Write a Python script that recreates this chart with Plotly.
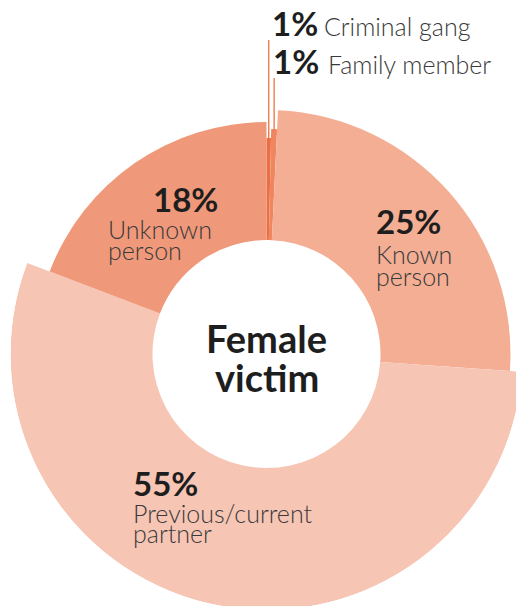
import math
import plotly.graph_objects as go

# ---------------- data ----------------
categories = ["Criminal gang", "Family member", "Known person",
              "Previous/current partner", "Unknown person"]
# angular share of each slice (percent of circle)
shares = [0.33, 0.42, 25.36, 54.67, 19.22]
# printed percentage labels
pct_labels = ["1%", "1%", "25%", "55%", "18%"]
label_lines = [["Criminal gang"], ["Family member"], ["Known", "person"],
               ["Previous/current", "partner"], ["Unknown", "person"]]

# ---------------- style ----------------
# the figure is a little larger than the 516x606 window; the window crops it
W, H = 530, 620
CX, CY = 266.5, 354.0          # centre of the donut (px from top-left)
R_AXIS = 256.0                 # radial axis length in px
HOLE = 114.0                   # inner radius (px units)
outer_radius = [216, 225, 244, 256, 232]
colors = ["#EC6E45", "#EF8660", "#F3AE94", "#F7C5B4", "#F0997A"]
leader_top = [40, 78]          # px from top where the leader lines end
leader_color = "#F0703F"
FONT = "Lato"
DARK = "#1e1e1e"
LIGHT = "#3a3a3a"

# angles (clockwise from 12 o'clock)
widths = [s * 3.6 for s in shares]
centers = []
acc = 0.0
for w in widths:
    centers.append(acc + w / 2)
    acc += w

fig = go.Figure()
fig.add_trace(go.Barpolar(
    r=[o - HOLE for o in outer_radius],
    base=[HOLE] * len(shares),
    theta=centers,
    width=widths,
    marker=dict(color=colors, line=dict(width=0)),
    hoverinfo="skip",
    showlegend=False,
))

# leader lines for the two thin slices
shapes = []
for i in range(2):
    a = math.radians(centers[i])
    x0 = CX + outer_radius[i] * math.sin(a)
    y0 = CY - outer_radius[i] * math.cos(a)
    shapes.append(dict(type="line", xref="paper", yref="paper",
                       x0=x0 / W, x1=x0 / W,
                       y0=1 - (y0 + 1) / H, y1=1 - leader_top[i] / H,
                       line=dict(color=leader_color, width=1.3)))

ann = []


def txt(text, x, y, size, weight, color, xanchor="left"):
    ann.append(dict(text=text, x=x / W, y=1 - y / H, xref="paper", yref="paper",
                    xanchor=xanchor, yanchor="middle", showarrow=False,
                    font=dict(family=FONT, size=size, weight=weight, color=color)))


PCT = 33
LAB = 25
# top thin slices
txt(pct_labels[0], 270, 23.5, PCT, 700, DARK)
txt(label_lines[0][0], 322, 26.5, LAB, 300, LIGHT)
txt(pct_labels[1], 271, 61, PCT, 700, DARK)
txt(label_lines[1][0], 325.5, 64, LAB, 300, LIGHT)
# known person
txt(pct_labels[2], 374, 221.5, PCT, 700, DARK)
txt(label_lines[2][0], 374, 254.5, LAB, 300, LIGHT)
txt(label_lines[2][1], 374, 276, LAB, 300, LIGHT)
# unknown person
txt(pct_labels[4], 151, 198.5, PCT, 700, DARK)
txt(label_lines[4][0], 105.5, 228.5, LAB, 300, LIGHT)
txt(label_lines[4][1], 105.5, 250, LAB, 300, LIGHT)
# partner
txt(pct_labels[3], 131, 482.5, PCT, 700, DARK)
txt(label_lines[3][0], 131, 513, LAB, 300, LIGHT)
txt(label_lines[3][1], 131, 533, LAB, 300, LIGHT)
# centre
txt("Female", CX, 337.5, 38, 700, DARK, "center")
txt("victim", CX, 377, 38, 700, DARK, "center")

fig.update_layout(
    width=W, height=H,
    margin=dict(l=0, r=0, t=0, b=0),
    paper_bgcolor="white",
    plot_bgcolor="white",
    showlegend=False,
    shapes=shapes,
    annotations=ann,
    polar=dict(
        domain=dict(x=[(CX - R_AXIS) / W, (CX + R_AXIS) / W],
                    y=[(H - CY - R_AXIS) / H, (H - CY + R_AXIS) / H]),
        bgcolor="rgba(0,0,0,0)",
        hole=0,
        bargap=0,
        radialaxis=dict(range=[0, R_AXIS], visible=False, showgrid=False),
        angularaxis=dict(direction="clockwise", rotation=90, visible=False,
                         showgrid=False),
    ),
)

fig.write_html(
    "out.html",
    config={"displayModeBar": False},
    post_script="document.body.style.margin='0';"
                "document.body.style.overflow='hidden';"
                "document.documentElement.style.overflow='hidden';",
)
